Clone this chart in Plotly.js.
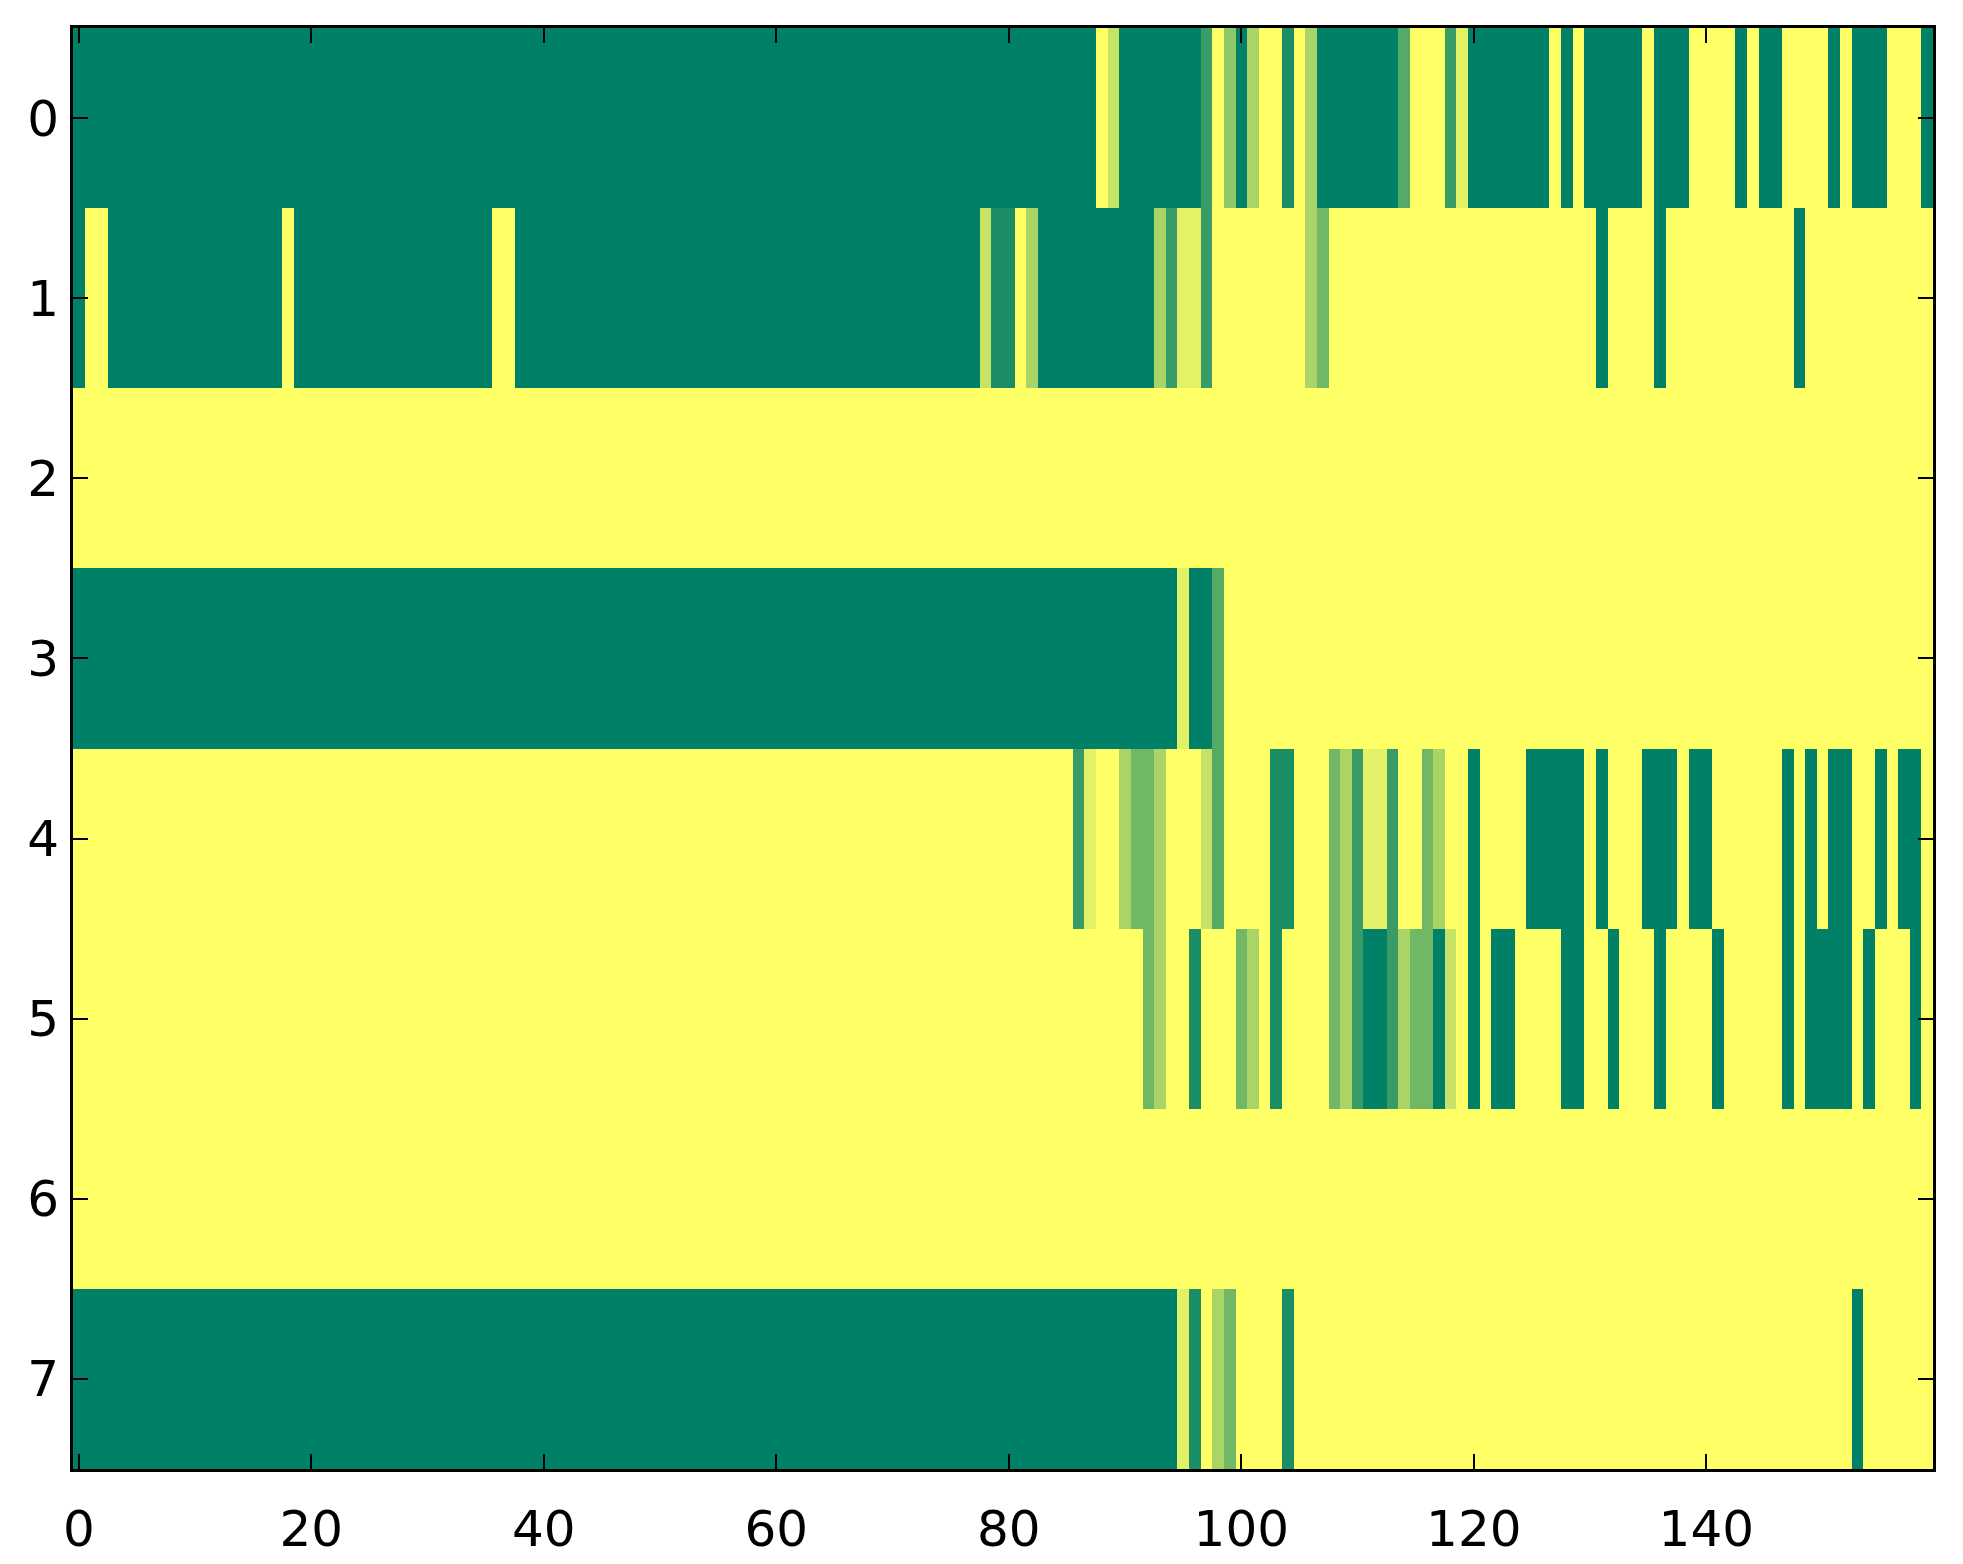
<!DOCTYPE html>
<html>
<head>
<meta charset="utf-8">
<script src="https://cdn.plot.ly/plotly-3.0.1.min.js"></script>
<style>html,body{margin:0;padding:0;background:#fff;}#chart{width:1963px;height:1564px;}</style>
</head>
<body>
<div id="chart"></div>
<script>
// Each row: 160 cell values (columns 0..159), 10 per line
const row0 = [
0,0,0,0,0,0,0,0,0,0,
0,0,0,0,0,0,0,0,0,0,
0,0,0,0,0,0,0,0,0,0,
0,0,0,0,0,0,0,0,0,0,
0,0,0,0,0,0,0,0,0,0,
0,0,0,0,0,0,0,0,0,0,
0,0,0,0,0,0,0,0,0,0,
0,0,0,0,0,0,0,0,0,0,
0,0,0,0,0,0,0,0,1,0.778,
0,0,0,0,0,0,0,0.222,1,0.556,
0,0.667,1,1,0.111,1,0.667,0,0,0,
0,0,0,0,0.333,1,1,1,0.222,0.889,
0,0,0,0,0,0,0,1,0,1,
0,0,0,0,0,1,0,0,0,1,
1,1,1,0,1,0,0,1,1,1,
1,0,1,0,0,0,1,1,1,0
];
const row1 = [
0,1,1,0,0,0,0,0,0,0,
0,0,0,0,0,0,0,0,1,0,
0,0,0,0,0,0,0,0,0,0,
0,0,0,0,0,0,1,1,0,0,
0,0,0,0,0,0,0,0,0,0,
0,0,0,0,0,0,0,0,0,0,
0,0,0,0,0,0,0,0,0,0,
0,0,0,0,0,0,0,0,0.778,0.111,
0.111,1,0.667,0,0,0,0,0,0,0,
0,0,0,0.667,0.222,0.889,0.889,0.222,1,1,
1,1,1,1,1,1,0.667,0.444,1,1,
1,1,1,1,1,1,1,1,1,1,
1,1,1,1,1,1,1,1,1,1,
1,0,1,1,1,1,0,1,1,1,
1,1,1,1,1,1,1,1,0,1,
1,1,1,1,1,1,1,1,1,1
];
const row2 = [
1,1,1,1,1,1,1,1,1,1,
1,1,1,1,1,1,1,1,1,1,
1,1,1,1,1,1,1,1,1,1,
1,1,1,1,1,1,1,1,1,1,
1,1,1,1,1,1,1,1,1,1,
1,1,1,1,1,1,1,1,1,1,
1,1,1,1,1,1,1,1,1,1,
1,1,1,1,1,1,1,1,1,1,
1,1,1,1,1,1,1,1,1,1,
1,1,1,1,1,1,1,1,1,1,
1,1,1,1,1,1,1,1,1,1,
1,1,1,1,1,1,1,1,1,1,
1,1,1,1,1,1,1,1,1,1,
1,1,1,1,1,1,1,1,1,1,
1,1,1,1,1,1,1,1,1,1,
1,1,1,1,1,1,1,1,1,1
];
const row3 = [
0,0,0,0,0,0,0,0,0,0,
0,0,0,0,0,0,0,0,0,0,
0,0,0,0,0,0,0,0,0,0,
0,0,0,0,0,0,0,0,0,0,
0,0,0,0,0,0,0,0,0,0,
0,0,0,0,0,0,0,0,0,0,
0,0,0,0,0,0,0,0,0,0,
0,0,0,0,0,0,0,0,0,0,
0,0,0,0,0,0,0,0,0,0,
0,0,0,0,0,0.889,0,0,0.333,1,
1,1,1,1,1,1,1,1,1,1,
1,1,1,1,1,1,1,1,1,1,
1,1,1,1,1,1,1,1,1,1,
1,1,1,1,1,1,1,1,1,1,
1,1,1,1,1,1,1,1,1,1,
1,1,1,1,1,1,1,1,1,1
];
const row4 = [
1,1,1,1,1,1,1,1,1,1,
1,1,1,1,1,1,1,1,1,1,
1,1,1,1,1,1,1,1,1,1,
1,1,1,1,1,1,1,1,1,1,
1,1,1,1,1,1,1,1,1,1,
1,1,1,1,1,1,1,1,1,1,
1,1,1,1,1,1,1,1,1,1,
1,1,1,1,1,1,1,1,1,1,
1,1,1,1,1,1,0.222,0.889,1,1,
0.667,0.444,0.444,0.667,1,1,1,0.778,0.333,1,
1,1,1,0.111,0.111,1,1,1,0.444,0.667,
0.222,0.889,0.889,0.222,1,1,0.444,0.667,1,1,
0,1,1,1,1,0,0,0,0,0,
1,0,1,1,1,0,0,0,1,0,
0,1,1,1,1,1,1,0,1,0,
1,0,0,1,1,0,1,0,0,1
];
const row5 = [
1,1,1,1,1,1,1,1,1,1,
1,1,1,1,1,1,1,1,1,1,
1,1,1,1,1,1,1,1,1,1,
1,1,1,1,1,1,1,1,1,1,
1,1,1,1,1,1,1,1,1,1,
1,1,1,1,1,1,1,1,1,1,
1,1,1,1,1,1,1,1,1,1,
1,1,1,1,1,1,1,1,1,1,
1,1,1,1,1,1,1,1,1,1,
1,1,0.444,0.667,1,1,0.111,1,1,1,
0.444,0.667,1,0.111,1,1,1,1,0.444,0.667,
0.222,0,0,0.222,0.667,0.444,0.444,0,0.778,1,
0,1,0,0,1,1,1,1,0,0,
1,1,0,1,1,1,0,1,1,1,
1,0,1,1,1,1,1,0,1,0,
0,0,0,1,0,1,1,1,0,1
];
const row6 = [
1,1,1,1,1,1,1,1,1,1,
1,1,1,1,1,1,1,1,1,1,
1,1,1,1,1,1,1,1,1,1,
1,1,1,1,1,1,1,1,1,1,
1,1,1,1,1,1,1,1,1,1,
1,1,1,1,1,1,1,1,1,1,
1,1,1,1,1,1,1,1,1,1,
1,1,1,1,1,1,1,1,1,1,
1,1,1,1,1,1,1,1,1,1,
1,1,1,1,1,1,1,1,1,1,
1,1,1,1,1,1,1,1,1,1,
1,1,1,1,1,1,1,1,1,1,
1,1,1,1,1,1,1,1,1,1,
1,1,1,1,1,1,1,1,1,1,
1,1,1,1,1,1,1,1,1,1,
1,1,1,1,1,1,1,1,1,1
];
const row7 = [
0,0,0,0,0,0,0,0,0,0,
0,0,0,0,0,0,0,0,0,0,
0,0,0,0,0,0,0,0,0,0,
0,0,0,0,0,0,0,0,0,0,
0,0,0,0,0,0,0,0,0,0,
0,0,0,0,0,0,0,0,0,0,
0,0,0,0,0,0,0,0,0,0,
0,0,0,0,0,0,0,0,0,0,
0,0,0,0,0,0,0,0,0,0,
0,0,0,0,0,0.889,0.111,1,0.667,0.444,
1,1,1,1,0.111,1,1,1,1,1,
1,1,1,1,1,1,1,1,1,1,
1,1,1,1,1,1,1,1,1,1,
1,1,1,1,1,1,1,1,1,1,
1,1,1,1,1,1,1,1,1,1,
1,1,1,0,1,1,1,1,1,1
];
const rows = [row0, row1, row2, row3, row4, row5, row6, row7];
const xTickVals = [0, 20, 40, 60, 80, 100, 120, 140];
const yTickVals = [0, 1, 2, 3, 4, 5, 6, 7];

const tickFont = {family: 'DejaVu Sans', size: 50, color: '#000'};
const axisCommon = {
  showline: true, linecolor: '#000', linewidth: 3, mirror: 'allticks',
  ticks: 'inside', ticklen: 15, tickwidth: 2, tickcolor: '#000',
  showgrid: false, zeroline: false, tickfont: tickFont, fixedrange: true
};

const data = [{
  type: 'heatmap',
  z: rows,
  colorscale: [[0, '#008066'], [1, '#ffff66']],
  zmin: 0, zmax: 1,
  zsmooth: false,
  showscale: false,
  hoverinfo: 'skip'
}];

const layout = {
  width: 1963, height: 1564,
  margin: {l: 73, r: 30, t: 28, b: 95, pad: 0},
  paper_bgcolor: '#fff', plot_bgcolor: '#fff',
  showlegend: false,
  xaxis: Object.assign({}, axisCommon, {range: [-0.5, 159.5], tickvals: xTickVals, ticktext: xTickVals.map(String), ticklabelstandoff: 14}),
  yaxis: Object.assign({}, axisCommon, {range: [7.5, -0.5], tickvals: yTickVals, ticktext: yTickVals.map(String), ticklabelstandoff: 1})
};

Plotly.newPlot('chart', data, layout, {staticPlot: true, displayModeBar: false});
</script>
</body>
</html>
